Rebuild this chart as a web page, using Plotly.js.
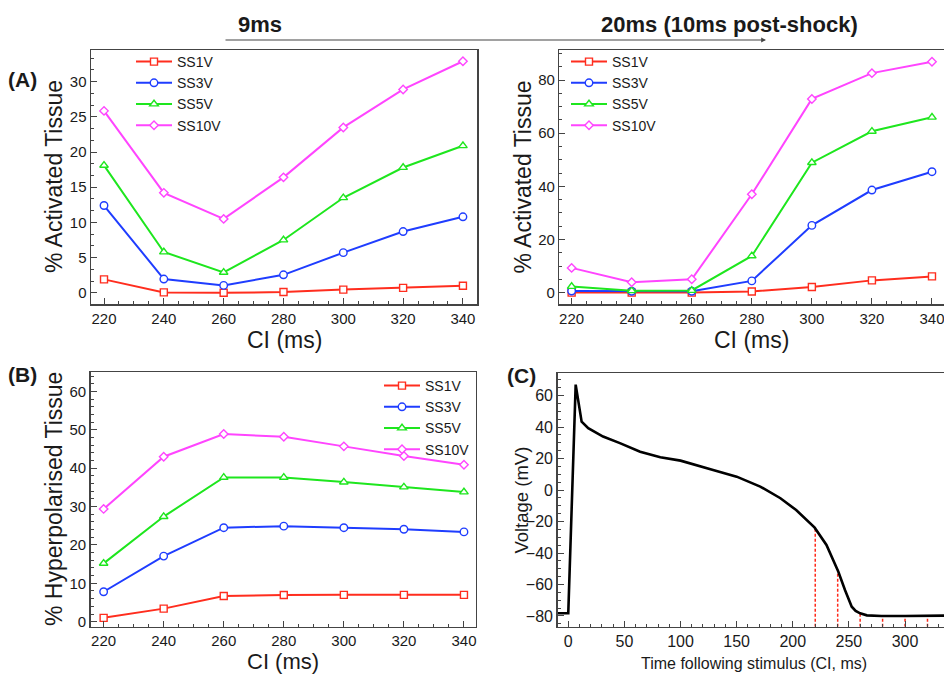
<!DOCTYPE html>
<html>
<head>
<meta charset="utf-8">
<script src="https://cdn.plot.ly/plotly-3.0.1.min.js"></script>
<style>html,body{margin:0;padding:0;background:#fff;}#chart{width:944px;height:675px;}</style>
</head>
<body>
<div id="chart"></div>
<script>
// ---------------- data ----------------
const ci = [220, 240, 260, 280, 300, 320, 340];
const seriesNames = ['SS1V', 'SS3V', 'SS5V', 'SS10V'];

// (A) left: 9 ms, % activated tissue
const act9_SS1V  = [1.9, 0.05, 0.0, 0.1, 0.45, 0.7, 1.0];
const act9_SS3V  = [12.4, 1.95, 1.05, 2.55, 5.7, 8.7, 10.8];
const act9_SS5V  = [18.1, 5.8, 2.9, 7.5, 13.5, 17.8, 20.9];
const act9_SS10V = [25.85, 14.2, 10.5, 16.4, 23.5, 28.9, 32.9];

// (A) right: 20 ms (10 ms post-shock), % activated tissue
const act20_SS1V  = [0.0, 0.0, 0.0, 0.4, 2.1, 4.6, 6.1];
const act20_SS3V  = [0.6, 0.5, 0.5, 4.4, 25.3, 38.6, 45.5];
const act20_SS5V  = [2.3, 0.7, 0.8, 13.8, 48.9, 60.7, 66.0];
const act20_SS10V = [9.3, 3.9, 5.0, 37.0, 72.9, 82.6, 86.9];

// (B) % hyperpolarised tissue
const hyp_SS1V  = [1.0, 3.4, 6.7, 6.95, 7.0, 7.0, 7.0];
const hyp_SS3V  = [7.8, 17.1, 24.5, 24.9, 24.5, 24.1, 23.4];
const hyp_SS5V  = [15.2, 27.4, 37.6, 37.6, 36.4, 35.1, 33.8];
const hyp_SS10V = [29.4, 43.0, 48.9, 48.2, 45.7, 43.2, 40.9];

// (C) action potential
const apTime = [-10, 0, 6.6, 11.9, 17.8, 25, 31, 46, 64, 82, 100, 129, 150, 171, 189, 203, 219.5, 230, 240.5, 246.5, 252.5, 256, 260, 266, 279, 300, 335];
const apVolt = [-78.3, -78.3, 67, 43.5, 39.3, 36.5, 34, 29.8, 24.4, 20.9, 18.7, 12.8, 8.5, 2.2, -5.2, -12.7, -23.9, -34.9, -51.8, -63.5, -74.1, -76.8, -78.3, -79.6, -80, -80, -79.8];
const markCI   = [220, 240, 260, 280, 300, 320];
const markVolt = [-24.1, -51.5, -78.3, -80, -80, -80];

// ---------------- styles ----------------
const colors  = ['#ff2d1e', '#1f3dff', '#1ee61e', '#ff45ff'];
const symbols = ['square', 'circle', 'triangle-up', 'diamond'];
const sizes   = [7, 7.5, 7.5, 6.5];
const FONT = "'Liberation Sans', Arial, Helvetica, sans-serif";
const TXT = '#1a1a1a';

function seriesTraces(ys, xa, ya, legendId) {
  return ys.map((y, i) => ({
    type: 'scatter', mode: 'lines+markers', x: ci, y: y,
    name: seriesNames[i], xaxis: xa, yaxis: ya, legend: legendId,
    line: {color: colors[i], width: 2},
    marker: {symbol: symbols[i], size: sizes[i], color: '#ffffff', line: {color: colors[i], width: 1.4}},
    cliponaxis: false
  }));
}

const traces = []
  .concat(seriesTraces([act9_SS1V, act9_SS3V, act9_SS5V, act9_SS10V], 'x', 'y', 'legend'))
  .concat(seriesTraces([act20_SS1V, act20_SS3V, act20_SS5V, act20_SS10V], 'x2', 'y2', 'legend2'))
  .concat(seriesTraces([hyp_SS1V, hyp_SS3V, hyp_SS5V, hyp_SS10V], 'x3', 'y3', 'legend3'));

const yRangeC = [-86.8, 74.2];
markCI.forEach((c, i) => {
  traces.push({
    type: 'scatter', mode: 'lines', x: [c, c], y: [yRangeC[0], markVolt[i]],
    xaxis: 'x4', yaxis: 'y4', showlegend: false, hoverinfo: 'skip',
    line: {color: '#ff2a1a', width: 1.5, dash: '3px,2px'}
  });
});
traces.push({
  type: 'scatter', mode: 'lines', x: apTime, y: apVolt, xaxis: 'x4', yaxis: 'y4',
  showlegend: false, line: {color: '#000000', width: 2.6}
});

function ax(extra) {
  return Object.assign({
    showline: true, mirror: true, linecolor: '#444', linewidth: 1.5,
    ticks: 'inside', ticklen: 6, tickwidth: 1, tickcolor: '#444',
    showgrid: false, zeroline: false, automargin: false, fixedrange: true,
    ticklabeloverflow: 'allow',
    tickfont: {family: FONT, size: 15, color: TXT}
  }, extra);
}
function minor(d) { return {ticks: 'inside', ticklen: 3, tickwidth: 1, tickcolor: '#444', dtick: d, showgrid: false}; }

function legendAt(x, y) {
  return {x: x, y: y, xref: 'paper', yref: 'paper', xanchor: 'left', yanchor: 'top', itemwidth: 36,
    bgcolor: 'rgba(0,0,0,0)', borderwidth: 0, font: {family: FONT, size: 14, color: TXT}};
}

// text annotation helper (paper pixel coordinates converted to fractions)
function label(text, px, py, size, angle, bold) {
  return {text: bold ? '<b>' + text + '</b>' : text, x: px / 944, y: 1 - py / 675,
    xref: 'paper', yref: 'paper', showarrow: false, textangle: angle || 0,
    xanchor: 'center', yanchor: 'middle', font: {family: FONT, size: size, color: TXT}};
}

const layout = {
  width: 944, height: 675,
  margin: {l: 0, r: 0, t: 0, b: 0},
  paper_bgcolor: '#ffffff', plot_bgcolor: '#ffffff',
  showlegend: true,
  font: {family: FONT, color: TXT},
  xaxis: ax({domain: [0.0964, 0.5053], range: [215.65, 344.7], anchor: 'y', dtick: 20, minor: minor(5)}),
  yaxis: ax({domain: [0.5496, 0.9259], range: [-1.6, 34.5], anchor: 'x', dtick: 5, minor: minor(5/3)}),
  xaxis2: ax({domain: [0.5925, 1.0], range: [215.9, 344.0], anchor: 'y2', dtick: 20, minor: minor(5)}),
  yaxis2: ax({domain: [0.5496, 0.9259], range: [-4.3, 91.3], anchor: 'x2', dtick: 20, minor: minor(5)}),
  xaxis3: ax({domain: [0.0961, 0.5042], range: [215.7, 344.0], anchor: 'y3', dtick: 20, minor: minor(5)}),
  yaxis3: ax({domain: [0.0716, 0.4484], range: [-1.3, 65], anchor: 'x3', dtick: 10, minor: minor(2)}),
  xaxis4: ax({domain: [0.5908, 1.0], range: [-9.4, 334.7], anchor: 'y4', dtick: 50, minor: minor(10),
    tickfont: {family: FONT, size: 16, color: TXT}}),
  yaxis4: ax({domain: [0.0716, 0.4470], range: yRangeC, anchor: 'x4', dtick: 20, minor: minor(5),
    tickfont: {family: FONT, size: 16, color: TXT}}),
  legend: legendAt(131 / 944, 1 - 46 / 675),
  legend2: legendAt(566 / 944, 1 - 46 / 675),
  legend3: legendAt(379 / 944, 1 - 370 / 675),
  annotations: [
    // headers
    label('9ms', 260, 25, 22, 0, true),
    label('20ms (10ms post-shock)', 729, 25, 22, 0, true),
    {text: '', x: 766 / 944, y: 1 - 40 / 675, xref: 'paper', yref: 'paper', showarrow: true,
      ax: -542, ay: 0, arrowhead: 2, arrowsize: 0.8, arrowwidth: 1.2, arrowcolor: '#444'},
    // panel letters
    label('(A)', 22.5, 79, 21, 0, true),
    label('(B)', 22, 374, 21, 0, true),
    label('(C)', 521.5, 375, 21, 0, true),
    // axis titles
    label('CI (ms)', 284, 340, 23),
    label('CI (ms)', 751.7, 340, 23),
    label('CI (ms)', 283, 661, 22),
    label('Time following stimulus (CI, ms)', 754, 663, 16),
    label('% Activated Tissue', 54, 177, 23, -90),
    label('% Activated Tissue', 522.5, 177, 23, -90),
    label('% Hyperpolarised Tissue', 54, 499, 23, -90),
    label('Voltage (mV)', 520.6, 500, 18.5, -90)
  ]
};

Plotly.newPlot('chart', traces, layout, {staticPlot: true, displayModeBar: false});
</script>
</body>
</html>
